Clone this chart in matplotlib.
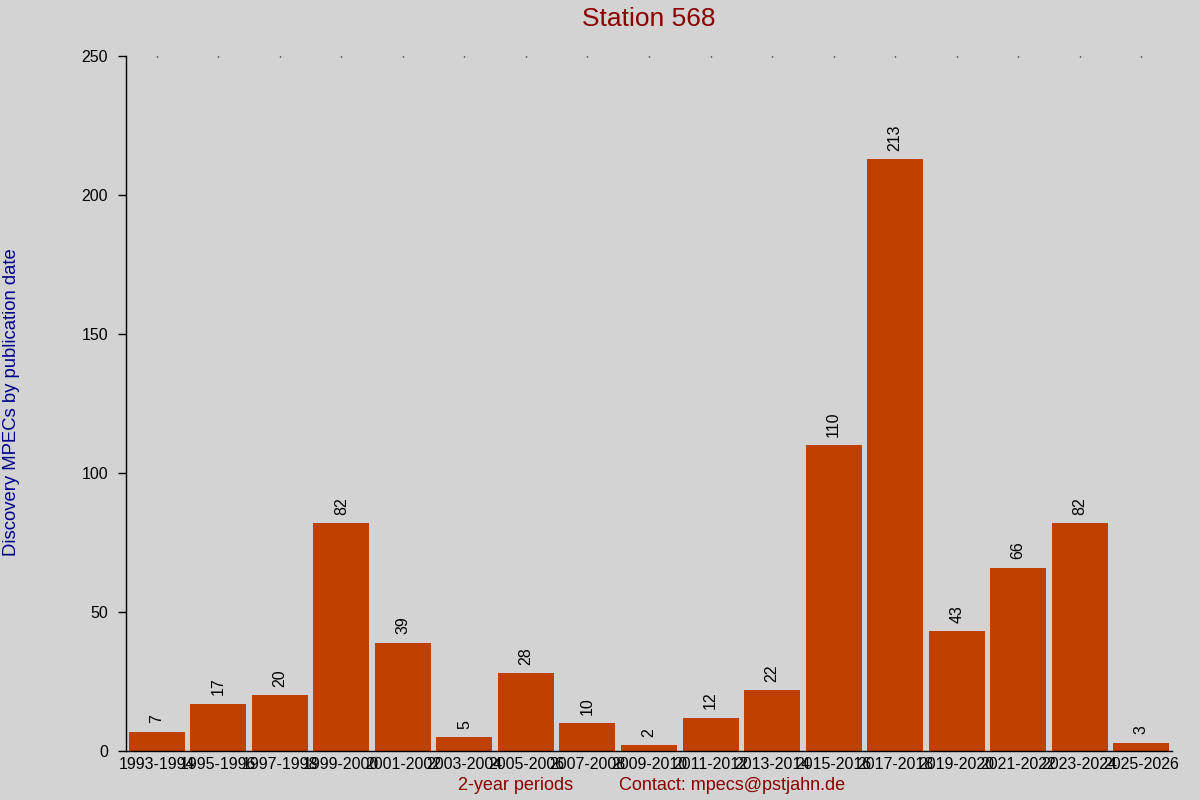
import numpy as np
import matplotlib.pyplot as plt

plt.rcParams['font.family'] = ['Liberation Sans', 'DejaVu Sans']

periods = ['1993-1994', '1995-1996', '1997-1998', '1999-2000', '2001-2002',
           '2003-2004', '2005-2006', '2007-2008', '2009-2010', '2011-2012',
           '2013-2014', '2015-2016', '2017-2018', '2019-2020', '2021-2022',
           '2023-2024', '2025-2026']
counts = [7, 17, 20, 82, 39, 5, 28, 10, 2, 12, 22, 110, 213, 43, 66, 82, 3]
yticks = [0, 50, 100, 150, 200, 250]

bg = '#d3d3d3'
fig = plt.figure(figsize=(12, 8), dpi=100, facecolor=bg)
ax = fig.add_axes([0.105, 0.06125, 0.8717, 0.86875], facecolor=bg)

x = np.arange(len(periods))
ax.bar(x, counts, width=0.91, color='#c04000')
for xi, v in zip(x, counts):
    ax.annotate(str(v), (xi, v), xytext=(0, 6), textcoords='offset points',
                rotation=90, ha='center', va='bottom', fontsize=11.5)

ax.set_xlim(-0.5, len(periods) - 0.5)
ax.set_ylim(0, 250)
ax.set_yticks(yticks)
ax.set_xticks(x)
ax.set_xticklabels(periods, fontsize=11.5)
ax.tick_params(axis='x', length=0, pad=4.5)
ax.tick_params(axis='y', length=6, width=1, pad=7, labelsize=11.5, direction='out')

for s in ['top', 'right']:
    ax.spines[s].set_visible(False)
ax.spines['left'].set_linewidth(1)
ax.spines['bottom'].set_linewidth(1)

# tiny marks along the top edge
top = ax.secondary_xaxis('top')
top.set_xticks(x)
top.set_xticklabels([])
top.tick_params(length=1, width=1, direction='in')
top.spines['top'].set_visible(False)

fig.text(0.5408, 0.976, 'Station 568', ha='center', va='center',
         fontsize=19, color='#8b0000')
fig.text(0.010, 0.4975, 'Discovery MPECs by publication date', rotation=90,
         ha='center', va='center', fontsize=13.3, color='#00008b')
fig.text(0.430, 0.0175, '2-year periods', ha='center', va='center',
         fontsize=13, color='#8b0000')
fig.text(0.610, 0.0175, 'Contact: mpecs@pstjahn.de', ha='center', va='center',
         fontsize=13, color='#8b0000')

fig.savefig('out.png', dpi=100, facecolor=bg)
